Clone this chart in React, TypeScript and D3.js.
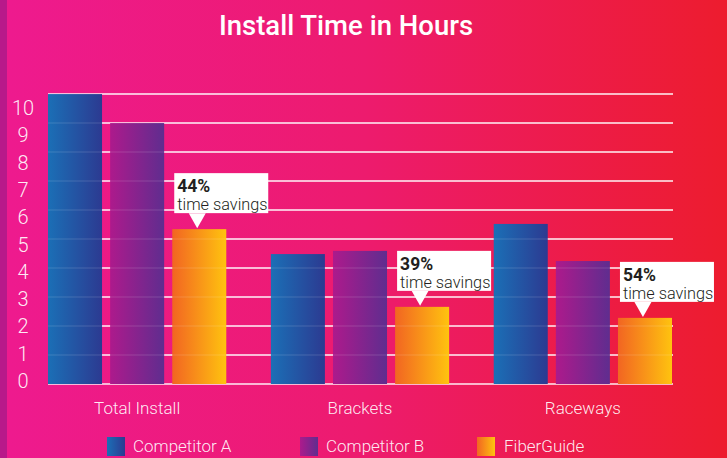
import React from 'react';
import * as d3 from 'd3';

const categories = ['Total Install', 'Brackets', 'Raceways'];
const seriesNames = ['Competitor A', 'Competitor B', 'FiberGuide'];
const competitorA = [10, 4.48, 5.52];
const competitorB = [9, 4.59, 4.24];
const fiberGuide = [5.34, 2.66, 2.28];
const savings = ['44%', '39%', '54%'];
const yTicks = [0, 1, 2, 3, 4, 5, 6, 7, 8, 9, 10];

const gradients = [
  ['#1b6fb6', '#2c3a91'],
  ['#ad1a8c', '#5f2d8f'],
  ['#f26522', '#ffc30f'],
];

export default function App() {
  const width = 727;
  const height = 458;
  const font = 'Roboto, "Open Sans", sans-serif';
  const series = [competitorA, competitorB, fiberGuide];

  const x0 = d3.scaleBand().domain(categories).range([48, 672]).paddingInner(0.2);
  const x1 = d3.scaleBand().domain(seriesNames).range([0, x0.bandwidth()]).paddingInner(0.13);
  const y = d3.scaleLinear().domain([0, 10]).range([384, 94]);
  const yLabel = d3.scaleLinear().domain([0, 10]).range([381, 108]);

  return (
    <div>
      <svg width={width} height={height} style={{ position: 'fixed', left: 0, top: 0 }}>
        <defs>
          <linearGradient id="bg" x1="0" x2="1" y1="0" y2="0">
            <stop offset="0%" stopColor="#ee1a8f" />
            <stop offset="50%" stopColor="#ed1b6e" />
            <stop offset="100%" stopColor="#ed1c2e" />
          </linearGradient>
          {gradients.map((g, i) => (
            <linearGradient key={i} id={`bar${i}`} x1="0" x2="1" y1="0" y2="0">
              <stop offset="0%" stopColor={g[0]} />
              <stop offset="100%" stopColor={g[1]} />
            </linearGradient>
          ))}
        </defs>
        <rect width={width} height={height} fill="url(#bg)" />
        <rect width={7} height={height} fill="#b8198a" />

        <text x={346} y={35} textAnchor="middle" fill="#fff" fontFamily={font} fontSize={27.5} fontWeight={500}>
          Install Time in Hours
        </text>

        {yTicks.map(t => (
          <line key={t} x1={48} x2={673} y1={y(t)} y2={y(t)} stroke="#fff" strokeOpacity={0.92} strokeWidth={1.6} />
        ))}
        {yTicks.map(t => (
          <text key={t} x={23} y={yLabel(t)} dy="0.35em" textAnchor="middle" fill="#fff" fillOpacity={0.92}
            fontFamily={font} fontSize={20} fontWeight={300}>
            {t}
          </text>
        ))}

        {categories.map((c, ci) => (
          <g key={c} transform={`translate(${x0(c)},0)`}>
            {series.map((s, si) => (
              <rect key={si} x={x1(seriesNames[si])} y={y(s[ci])} width={x1.bandwidth()}
                height={y(0) - y(s[ci])} fill={`url(#bar${si})`} />
            ))}
            <text x={x0.bandwidth() / 2} y={414} textAnchor="middle" fill="#fff" fillOpacity={0.92}
              fontFamily={font} fontSize={17} fontWeight={300}>
              {c}
            </text>
          </g>
        ))}

        {yTicks.slice(1).map(t => (
          <line key={t} x1={48} x2={673} y1={y(t)} y2={y(t)} stroke="#fff" strokeOpacity={0.1} strokeWidth={1.6} />
        ))}

        {categories.map((c, ci) => {
          const bx = (x0(c) as number) + (x1('FiberGuide') as number);
          const tipY = y(fiberGuide[ci]) - 1;
          const tipX = bx + 25;
          const boxB = tipY - 15;
          const boxT = boxB - 40;
          return (
            <g key={c}>
              <rect x={bx + 2} y={boxT} width={94} height={40} fill="#fff" />
              <path d={`M${tipX - 8.5},${boxB}L${tipX + 8.5},${boxB}L${tipX},${tipY}Z`} fill="#fff" />
              <text x={bx + 5} y={boxT + 19} fill="#231f20" fontFamily={font} fontSize={17.5} fontWeight={700}>
                {savings[ci]}
              </text>
              <text x={bx + 5} y={boxT + 37} fill="#231f20" fontFamily={font} fontSize={16.3} fontWeight={300}>
                time savings
              </text>
            </g>
          );
        })}

        {seriesNames.map((n, i) => {
          const lx = [107, 300, 477][i];
          return (
            <g key={n} transform={`translate(${lx},437)`}>
              <rect width={18} height={19} fill={`url(#bar${i})`} />
              <text x={i === 2 ? 27 : 26} y={15} fill="#fff" fillOpacity={0.92} fontFamily={font} fontSize={17} fontWeight={300}>
                {n}
              </text>
            </g>
          );
        })}
      </svg>
    </div>
  );
}
